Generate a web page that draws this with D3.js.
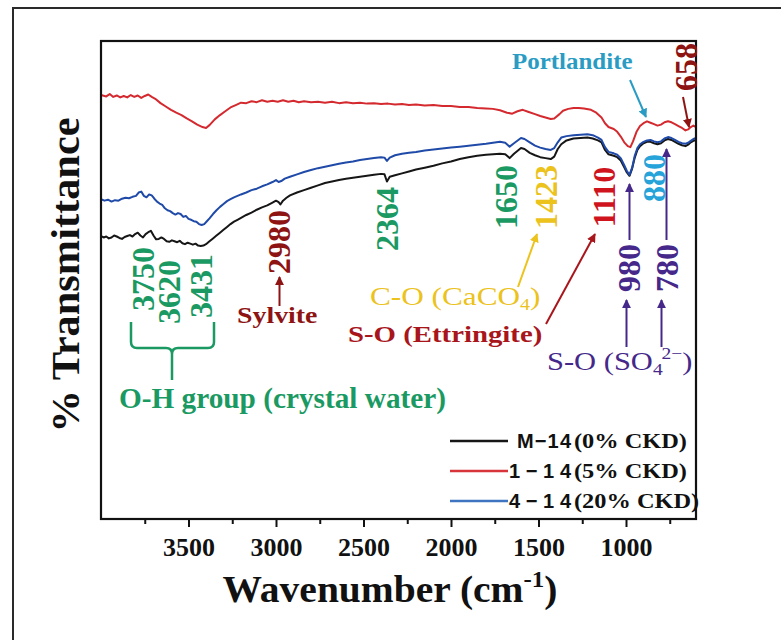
<!DOCTYPE html>
<html><head><meta charset="utf-8">
<script src="https://cdn.jsdelivr.net/npm/d3@7"></script>
<style>
html,body{margin:0;padding:0;background:#fff;}
svg{display:block;}
</style></head>
<body>
<svg id="chart" width="781" height="640"></svg>
<script>
// ---------- DATA ----------
const seriesNames = ["M\u221214", "1\u221214", "4\u221214"];
const seriesNotes = ["(0% CKD)", "(5% CKD)", "(20% CKD)"];
const seriesColors = ["#161616", "#d42a2f", "#1f4aa8"];
const legendColors = ["#161616", "#d8353a", "#3f74c0"];
const xTickLabels = [3500, 3000, 2500, 2000, 1500, 1000];
const xMinorTicks = [3750, 3250, 2750, 2250, 1750, 1250, 750];

// [wavenumber, %T (arbitrary offset scale)]
const specM14 = [[4000,59.2],[3985,58.9],[3970,59.1],[3955,58.7],[3940,58.9],[3925,59.3],[3910,59.1],[3895,58.8],[3880,58.6],[3865,59.0],[3850,59.2],[3835,59.4],[3820,59.1],[3805,59.6],[3790,59.9],[3775,59.3],[3760,58.9],[3745,59.6],[3730,60.0],[3715,60.3],[3700,59.3],[3685,58.5],[3670,58.6],[3655,58.9],[3640,58.6],[3625,58.1],[3610,58.0],[3595,58.3],[3580,58.1],[3565,57.9],[3550,58.2],[3535,57.7],[3520,57.5],[3505,57.8],[3490,57.6],[3475,57.4],[3460,57.6],[3445,57.2],[3430,57.1],[3415,57.2],[3400,57.5],[3380,58.1],[3360,58.7],[3340,59.3],[3320,59.9],[3300,60.5],[3280,61.1],[3260,61.7],[3240,62.2],[3220,62.6],[3200,63.0],[3170,63.6],[3140,64.1],[3110,64.7],[3080,65.2],[3050,65.6],[3020,66.2],[3000,66.6],[2985,66.3],[2975,65.8],[2960,66.6],[2940,67.2],[2920,67.7],[2880,68.3],[2840,68.8],[2800,69.3],[2760,69.8],[2720,70.3],[2680,70.6],[2640,70.9],[2600,71.2],[2560,71.4],[2520,71.6],[2480,71.8],[2440,72.0],[2400,72.2],[2380,72.1],[2366,70.6],[2350,71.6],[2320,71.9],[2280,72.3],[2240,72.7],[2200,73.1],[2150,73.5],[2100,73.9],[2050,74.4],[2000,74.8],[1950,75.3],[1900,75.7],[1850,76.0],[1800,76.2],[1760,76.3],[1720,76.4],[1690,76.3],[1665,75.5],[1640,76.4],[1600,77.6],[1580,77.4],[1550,76.6],[1520,76.1],[1490,75.7],[1460,75.5],[1430,75.3],[1410,75.8],[1390,77.4],[1370,78.4],[1340,79.2],[1300,79.6],[1260,79.7],[1220,79.8],[1190,79.6],[1160,79.2],[1140,78.8],[1120,77.2],[1100,76.3],[1070,76.0],[1050,75.7],[1030,75.0],[1010,73.6],[995,72.5],[980,71.8],[965,73.3],[950,75.6],[935,77.2],[920,78.0],[900,78.6],[880,78.9],[860,78.9],[840,78.6],[820,78.4],[800,78.6],[780,79.2],[760,79.5],[740,79.3],[720,78.9],[700,78.5],[680,78.2],[660,78.0],[645,78.3],[630,78.8],[615,79.1],[600,79.3]];

const spec1_14 = [[4000,88.7],[3970,88.4],[3950,88.9],[3930,88.3],[3910,88.6],[3890,88.2],[3870,88.5],[3850,88.2],[3830,88.7],[3810,88.3],[3790,88.6],[3770,88.1],[3750,88.5],[3730,88.8],[3710,88.3],[3690,87.9],[3660,87.0],[3630,86.3],[3600,85.6],[3570,85.0],[3540,84.5],[3510,83.8],[3480,83.2],[3450,82.5],[3420,82.0],[3400,81.8],[3380,82.4],[3350,83.6],[3320,84.5],[3290,85.3],[3260,86.1],[3230,86.6],[3200,87.1],[3170,87.0],[3140,87.4],[3110,87.2],[3080,87.6],[3050,87.3],[3020,87.5],[2990,87.3],[2960,87.6],[2930,87.3],[2900,87.5],[2870,87.2],[2840,87.4],[2800,87.2],[2760,87.3],[2720,87.1],[2680,87.3],[2640,87.0],[2600,87.2],[2560,87.0],[2520,87.1],[2480,86.9],[2440,87.0],[2400,86.8],[2360,86.9],[2320,86.7],[2280,86.8],[2240,86.6],[2200,86.7],[2150,86.5],[2100,86.6],[2050,86.4],[2000,86.4],[1950,86.2],[1900,86.2],[1850,86.0],[1800,85.9],[1760,85.8],[1720,85.5],[1680,85.0],[1650,84.8],[1620,85.3],[1590,85.6],[1560,85.2],[1520,84.7],[1490,84.3],[1460,84.0],[1430,83.7],[1410,83.8],[1380,84.7],[1360,85.4],[1330,85.8],[1300,86.0],[1270,86.0],[1240,85.9],[1200,85.6],[1170,85.0],[1140,84.0],[1120,82.8],[1100,82.0],[1070,81.6],[1050,81.0],[1030,80.0],[1010,78.8],[990,78.0],[975,77.8],[960,79.0],[940,81.0],[920,82.2],[900,82.8],[880,83.2],[860,82.9],[840,82.6],[820,82.3],[800,82.5],[780,83.0],[760,83.2],[740,83.0],[720,82.6],[700,82.2],[680,81.8],[660,81.3],[645,81.5],[630,82.0],[615,82.3],[600,82.0]];

const spec4_14 = [[4000,66.9],[3980,66.6],[3960,66.8],[3940,66.4],[3920,66.7],[3900,66.6],[3880,67.0],[3860,67.2],[3840,67.1],[3820,67.4],[3800,67.6],[3785,68.3],[3770,68.5],[3755,67.6],[3740,67.3],[3725,67.9],[3710,67.7],[3695,67.0],[3680,66.4],[3665,66.0],[3650,65.7],[3635,65.0],[3620,64.6],[3605,64.4],[3590,64.0],[3575,63.7],[3560,64.0],[3545,63.8],[3530,63.2],[3515,63.4],[3500,62.8],[3485,62.6],[3470,62.3],[3455,62.2],[3440,61.7],[3425,61.5],[3410,61.7],[3395,62.3],[3380,62.9],[3360,63.8],[3340,64.6],[3320,65.3],[3300,65.9],[3280,66.5],[3260,66.9],[3240,67.3],[3220,67.6],[3200,67.9],[3170,68.3],[3140,68.8],[3110,69.1],[3080,69.6],[3050,70.0],[3020,70.5],[3000,70.9],[2985,70.5],[2970,70.7],[2950,71.2],[2920,71.6],[2880,72.1],[2840,72.6],[2800,73.0],[2760,73.4],[2720,73.7],[2680,74.0],[2640,74.3],[2600,74.6],[2560,74.8],[2520,75.1],[2480,75.3],[2440,75.5],[2400,75.7],[2380,75.6],[2366,74.9],[2350,75.6],[2320,76.1],[2280,76.4],[2240,76.6],[2200,76.8],[2150,77.1],[2100,77.3],[2050,77.5],[2000,77.7],[1950,77.9],[1900,78.1],[1850,78.3],[1800,78.5],[1760,78.7],[1720,78.9],[1690,78.7],[1665,77.9],[1640,78.6],[1600,79.7],[1580,79.5],[1550,78.8],[1520,78.1],[1490,77.7],[1460,77.4],[1430,77.2],[1410,77.6],[1390,78.8],[1370,79.8],[1340,80.1],[1300,80.3],[1260,80.4],[1220,80.5],[1190,80.3],[1160,79.8],[1140,79.3],[1120,77.8],[1100,76.8],[1070,76.5],[1050,76.2],[1030,75.5],[1010,74.0],[995,72.8],[980,72.0],[965,73.5],[950,76.0],[935,77.6],[920,78.4],[900,78.9],[880,79.2],[860,79.3],[840,79.0],[820,78.8],[800,79.0],[780,79.6],[760,79.9],[740,79.7],[720,79.3],[700,78.9],[680,78.6],[660,78.5],[645,78.7],[630,79.1],[615,79.5],[600,79.7]];

const seriesData = [specM14, spec1_14, spec4_14];
const peakWaves = [3750, 3620, 3431, 2980, 2364, 1650, 1423, 1110, 980, 880, 780, 658];

// ---------- DRAW ----------
const svg = d3.select("#chart");
const SERIF = "'Liberation Serif','Times New Roman',serif";
const SANS = "'Liberation Sans',Arial,sans-serif";
const GREEN = "#1a9a62", DKRED = "#8e1414", RED = "#d0141e", YEL = "#ecc21c",
      PURP = "#45288a", CYAN = "#26a4da", TEAL = "#2a9cc4";

const x = d3.scaleLinear().domain([4000, 600]).range([101, 696]);
const y = d3.scaleLinear().domain([0, 100]).range([519, 41]);

// outer figure frame
svg.append("rect").attr("x", 13).attr("y", 8).attr("width", 820).attr("height", 700)
  .attr("fill", "none").attr("stroke", "#2a2a2a").attr("stroke-width", 2);

// arrow markers
const defs = svg.append("defs");
[["dkred", DKRED], ["red", "#a8161c"], ["yel", YEL], ["purp", PURP], ["teal", TEAL]].forEach(([id, c]) => {
  defs.append("marker").attr("id", "ah-" + id).attr("viewBox", "0 0 10 10")
    .attr("refX", 9).attr("refY", 5).attr("markerWidth", 9).attr("markerHeight", 9)
    .attr("markerUnits", "userSpaceOnUse").attr("orient", "auto")
    .append("path").attr("d", "M0,0 L10,5 L0,10 z").attr("fill", c);
});

// axes
const axisG = svg.append("g").attr("transform", "translate(0,519)");
axisG.call(d3.axisBottom(x).tickValues(xMinorTicks).tickSize(5).tickFormat(""));
const majorG = svg.append("g").attr("transform", "translate(0,519)");
majorG.call(d3.axisBottom(x).tickValues(xTickLabels).tickSize(8).tickFormat(d3.format("d")));
[axisG, majorG].forEach(g => {
  g.select(".domain").remove();
  g.selectAll(".tick line").attr("stroke", "#111").attr("stroke-width", 2);
});
majorG.selectAll(".tick text").attr("y", 19).attr("font-family", SERIF)
  .attr("font-weight", "bold").attr("font-size", 26).attr("fill", "#111");

// lines: black, red, blue (blue on top)
const line = d3.line().x(d => x(d[0])).y(d => y(d[1])).curve(d3.curveLinear);
svg.append("g").selectAll("path").data(seriesData).join("path")
  .attr("d", line).attr("fill", "none")
  .attr("stroke", (d, i) => seriesColors[i]).attr("stroke-width", 2)
  .attr("stroke-linejoin", "round");

// plot frame
svg.append("rect").attr("x", 101).attr("y", 41).attr("width", 595).attr("height", 478)
  .attr("fill", "none").attr("stroke", "#111").attr("stroke-width", 2.2);

// axis titles
const xt = svg.append("text").attr("transform", "translate(390,602) scale(1.04,1)").attr("text-anchor", "middle")
  .attr("font-family", SERIF).attr("font-weight", "bold").attr("font-size", 38).attr("fill", "#111");
xt.append("tspan").text("Wavenumber (cm");
xt.append("tspan").attr("font-size", 24).attr("dy", -15).text("-1");
xt.append("tspan").attr("dy", 15).text(")");

svg.append("text").attr("transform", "translate(79,275) scale(1,1.06) rotate(-90)").attr("text-anchor", "middle")
  .attr("font-family", SERIF).attr("font-weight", "bold").attr("font-size", 40).attr("fill", "#111")
  .text("% Transmittance");

// helpers
function vLabel(str, cx, cy, color, size = 32) {
  svg.append("text").attr("transform", `translate(${cx + 0.34 * size},${cy}) rotate(-90)`)
    .attr("text-anchor", "middle").attr("font-family", SERIF).attr("font-weight", "bold")
    .attr("font-size", size).attr("fill", color).text(str);
}
function hText(xp, yp, sx, size, color, weight) {
  return svg.append("text").attr("transform", `translate(${xp},${yp}) scale(${sx},1)`)
    .attr("font-family", SERIF).attr("font-weight", weight).attr("font-size", size).attr("fill", color);
}
function arrow(x1, y1, x2, y2, color, id, w = 2) {
  svg.append("line").attr("x1", x1).attr("y1", y1).attr("x2", x2).attr("y2", y2)
    .attr("stroke", color).attr("stroke-width", w).attr("marker-end", `url(#ah-${id})`);
}

// peak labels
vLabel(String(peakWaves[0]), x(3750) - 2, 279, GREEN);
vLabel(String(peakWaves[1]), x(3620) + 2, 292, GREEN);
vLabel(String(peakWaves[2]), x(3431) + 1, 286, GREEN);
vLabel(String(peakWaves[3]), x(2980), 242, DKRED);
vLabel(String(peakWaves[4]), x(2364), 219, GREEN);
vLabel(String(peakWaves[5]), x(1650) - 6, 197, GREEN);
vLabel(String(peakWaves[6]), x(1423) - 6, 197, YEL);
vLabel(String(peakWaves[7]), x(1110) - 3, 197, RED);
vLabel(String(peakWaves[8]), x(980), 268, PURP);
vLabel(String(peakWaves[9]), x(880) + 7, 178, CYAN);
vLabel(String(peakWaves[10]), x(780) + 3, 268, PURP);
vLabel(String(peakWaves[11]), x(658), 67, DKRED);

// O-H bracket
svg.append("path")
  .attr("d", "M131,322 L131,342 Q131,348 137,348 L166,348 Q172,348 172,354 L172,380 M172,354 Q172,348 178,348 L208,348 Q214,348 214,342 L214,322")
  .attr("fill", "none").attr("stroke", GREEN).attr("stroke-width", 2.5);
hText(119, 408, 1.01, 29, GREEN, "bold").text("O-H group (crystal water)");

// Sylvite
arrow(x(2980), 306, x(2980), 277, DKRED, "dkred");
hText(237, 323, 1.16, 24, DKRED, "bold").text("Sylvite");

// C-O (CaCO4)
const co = hText(370, 305, 1.25, 25, YEL, "normal");
co.append("tspan").text("C-O (CaCO");
co.append("tspan").attr("font-size", 16).attr("dy", 5).text("4");
co.append("tspan").attr("dy", -5).text(")");
arrow(518, 287, 537, 234, YEL, "yel");

// S-O (Ettringite)
hText(348, 342, 1.2, 24, "#a8161c", "bold").text("S-O (Ettringite)");
arrow(546, 324, 595, 234, "#a8161c", "red");

// S-O (SO4 2-)
const so = hText(547, 370, 1.22, 25, PURP, "normal");
so.append("tspan").text("S-O (SO");
so.append("tspan").attr("font-size", 16).attr("dy", 5).text("4");
so.append("tspan").attr("font-size", 16).attr("dy", -16).attr("dx", -1).text("2\u2212");
so.append("tspan").attr("dy", 11).text(")");
arrow(x(980), 240, x(980), 184, PURP, "purp");
arrow(x(980) - 3, 347, x(980) - 3, 300, PURP, "purp");
arrow(x(780) + 2, 240, x(780) + 2, 149, PURP, "purp");
arrow(x(780) - 3, 347, x(780) - 3, 300, PURP, "purp");

// Portlandite & 658
hText(512, 69, 1.04, 24, TEAL, "bold").text("Portlandite");
arrow(630, 80, 646, 117, TEAL, "teal");
arrow(683, 97, 689, 127, DKRED, "dkred");

// legend
const legY = [441, 471, 501];
const legNameStart = [517, 509, 509];
seriesNames.forEach((name, i) => {
  svg.append("line").attr("x1", 450).attr("x2", 508).attr("y1", legY[i]).attr("y2", legY[i])
    .attr("stroke", legendColors[i]).attr("stroke-width", 2.6);
  svg.append("text").attr("x", legNameStart[i]).attr("y", legY[i] + 7)
    .attr("textLength", 571 - legNameStart[i]).attr("lengthAdjust", "spacing")
    .attr("font-family", SANS).attr("font-weight", "bold").attr("font-size", 20).attr("fill", "#111")
    .text(name);
  hText(574, legY[i] + 7, 1.16, 21, "#111", "bold").text(seriesNotes[i]);
});
</script>
</body></html>
